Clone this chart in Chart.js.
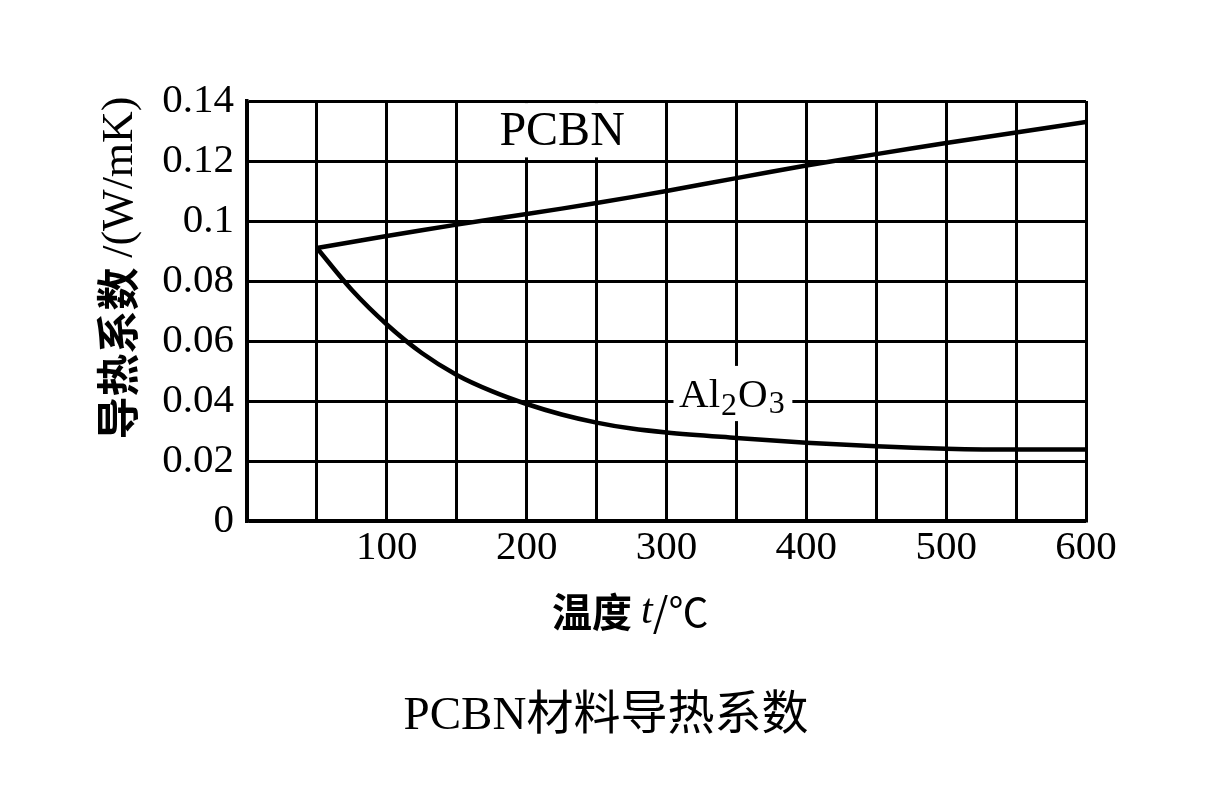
<!DOCTYPE html>
<html>
<head>
<meta charset="utf-8">
<script src="https://cdn.jsdelivr.net/npm/chart.js@4/dist/chart.umd.min.js"></script>
<style>
  html, body { margin: 0; padding: 0; background: #fff; }
  #wrap { width: 1212px; height: 793px; position: relative; }
</style>
</head>
<body>
<div id="wrap"><canvas id="c" width="1212" height="793"></canvas></div>
<script>
// ---- data ----
const temps_PCBN = [50, 100, 150, 200, 250, 300, 350, 400, 450, 500, 550, 600];
const k_PCBN     = [0.091, 0.095, 0.0988, 0.1023, 0.106, 0.110, 0.1143, 0.1185, 0.1223, 0.126, 0.1295, 0.133];

const temps_Al2O3 = [50, 75, 100, 125, 150, 175, 200, 225, 250, 275, 300, 350, 400, 450, 500, 550, 600];
const k_Al2O3     = [0.091, 0.077, 0.0655, 0.056, 0.0487, 0.0433, 0.039, 0.0355, 0.0328, 0.0308, 0.0295, 0.0277, 0.0261, 0.0249, 0.0241, 0.0238, 0.0238];

const xTickValues = [100, 200, 300, 400, 500, 600];
const xTickLabels = ['100', '200', '300', '400', '500', '600'];
const yTickLabels = ['0', '0.02', '0.04', '0.06', '0.08', '0.1', '0.12', '0.14'];

const seriesNames = ['PCBN', 'Al2O3'];
const chartTitle = 'PCBN材料导热系数';
const yTitleParts = ['导热系数 ', '/(W/mK)'];
const xTitleParts = ['温度 ', 't', '/℃'];

const SERIF = '"Liberation Serif", "Noto Sans CJK SC", serif';

function pts(xs, ys) { return xs.map((x, i) => ({ x: x, y: ys[i] })); }

const annotations = {
  id: 'annotations',
  beforeDatasetsDraw(chart) {
    const ctx = chart.ctx;
    const xs = chart.scales.x, ys = chart.scales.y;
    ctx.save();
    ctx.fillStyle = '#fff';
    // PCBN label box (interrupts grid)
    let bx = xs.getPixelForValue(167), by = ys.getPixelForValue(0.1393);
    ctx.fillRect(bx, by, xs.getPixelForValue(281) - bx, ys.getPixelForValue(0.1212) - by);
    // Al2O3 label box
    bx = xs.getPixelForValue(305); by = ys.getPixelForValue(0.0517);
    ctx.fillRect(bx, by, xs.getPixelForValue(390) - bx, ys.getPixelForValue(0.0333) - by);
    ctx.restore();
  },
  afterDatasetsDraw(chart) {
    const ctx = chart.ctx;
    const xs = chart.scales.x, ys = chart.scales.y;
    ctx.save();
    ctx.fillStyle = '#000';
    ctx.textBaseline = 'alphabetic';
    ctx.textAlign = 'left';
    // PCBN label
    ctx.font = '48px "Liberation Serif"';
    ctx.fillText(seriesNames[0], xs.getPixelForValue(180.5), ys.getPixelForValue(0.1252));
    // Al2O3 label with subscripts
    let x = xs.getPixelForValue(309);
    const base = ys.getPixelForValue(0.0380);
    const parts = [['Al', 0, 41, 1], ['2', 8, 32, 1], ['O', 0, 41, 1], ['3', 6, 32, 0]];
    parts.forEach(p => {
      ctx.font = p[2] + 'px "Liberation Serif"';
      ctx.fillText(p[0], x, base + p[1]);
      x += ctx.measureText(p[0]).width + p[3];
    });
    ctx.restore();
  },
  afterDraw(chart) {
    const ctx = chart.ctx;
    // Y axis title (rotated), CJK in heavier sans, units in serif
    ctx.save();
    ctx.fillStyle = '#000';
    ctx.translate(118, 268);
    ctx.rotate(-Math.PI / 2);
    ctx.textBaseline = 'middle';
    ctx.textAlign = 'left';
    const yFonts = ['bold 43px "Noto Sans CJK SC"', '44px "Liberation Serif"'];
    let total = 0;
    yTitleParts.forEach((t, i) => { ctx.font = yFonts[i]; total += ctx.measureText(t).width; });
    let p = -total / 2;
    yTitleParts.forEach((t, i) => {
      ctx.font = yFonts[i];
      ctx.fillText(t, p, i === 1 ? 2 : 0);
      p += ctx.measureText(t).width;
    });
    ctx.restore();

    // X axis title with italic t
    ctx.save();
    ctx.fillStyle = '#000';
    ctx.textBaseline = 'middle';
    ctx.textAlign = 'left';
    const fonts = ['bold 40px "Noto Sans CJK SC"', 'italic 42px "Liberation Serif"', '40px "Noto Sans CJK SC"'];
    let x = 552;
    xTitleParts.forEach((t, i) => {
      ctx.font = fonts[i];
      ctx.fillText(t, x, 612);
      x += ctx.measureText(t).width;
    });
    ctx.restore();
  }
};

new Chart(document.getElementById('c'), {
  type: 'line',
  data: {
    datasets: [
      {
        label: seriesNames[0],
        data: pts(temps_PCBN, k_PCBN),
        borderColor: '#000',
        borderWidth: 4.5,
        pointRadius: 0,
        tension: 0.3,
        fill: false
      },
      {
        label: seriesNames[1],
        data: pts(temps_Al2O3, k_Al2O3),
        borderColor: '#000',
        borderWidth: 4.5,
        pointRadius: 0,
        cubicInterpolationMode: 'monotone',
        fill: false
      }
    ]
  },
  options: {
    responsive: false,
    animation: false,
    devicePixelRatio: 1,
    layout: { padding: { top: 101, left: 0, right: 0, bottom: 0 } },
    plugins: {
      legend: { display: false },
      tooltip: { enabled: false },
      title: {
        display: true,
        position: 'bottom',
        text: chartTitle,
        color: '#000',
        font: { family: SERIF, size: 47, weight: 'normal', lineHeight: 1.2 },
        padding: { top: 0, bottom: 48 }
      }
    },
    scales: {
      x: {
        type: 'linear',
        min: 0,
        max: 600,
        afterFit(s) { s.height = 793 - 521 - (47 * 1.2 + 48); },
        afterBuildTicks(s) {
          const t = [];
          for (let v = 0; v <= 600; v += 50) t.push({ value: v });
          s.ticks = t;
        },
        ticks: {
          autoSkip: false,
          maxRotation: 0,
          padding: 3,
          color: '#000',
          font: { family: '"Liberation Serif"', size: 41 },
          callback(v) {
            const i = xTickValues.indexOf(v);
            return i >= 0 ? xTickLabels[i] : '';
          }
        },
        grid: { color: '#000', lineWidth: 3, drawTicks: false },
        border: { color: '#000', width: 3.5 }
      },
      y: {
        type: 'linear',
        min: 0,
        max: 0.14,
        afterFit(s) { s.width = 247; },
        afterBuildTicks(s) {
          s.ticks = yTickLabels.map((_, i) => ({ value: i * 0.02 }));
        },
        ticks: {
          autoSkip: false,
          padding: 13,
          color: '#000',
          font: { family: '"Liberation Serif"', size: 41 },
          callback(v) {
            const i = Math.round(v / 0.02);
            return yTickLabels[i] !== undefined ? yTickLabels[i] : '';
          }
        },
        grid: { color: '#000', lineWidth: 3, drawTicks: false },
        border: { color: '#000', width: 3.5 }
      },
      yRight: {
        position: 'right',
        display: true,
        afterFit(s) { s.width = 1212 - 1086; },
        ticks: { display: false },
        grid: { display: false, drawTicks: false },
        border: { display: false }
      }
    }
  },
  plugins: [annotations]
});
</script>
</body>
</html>
